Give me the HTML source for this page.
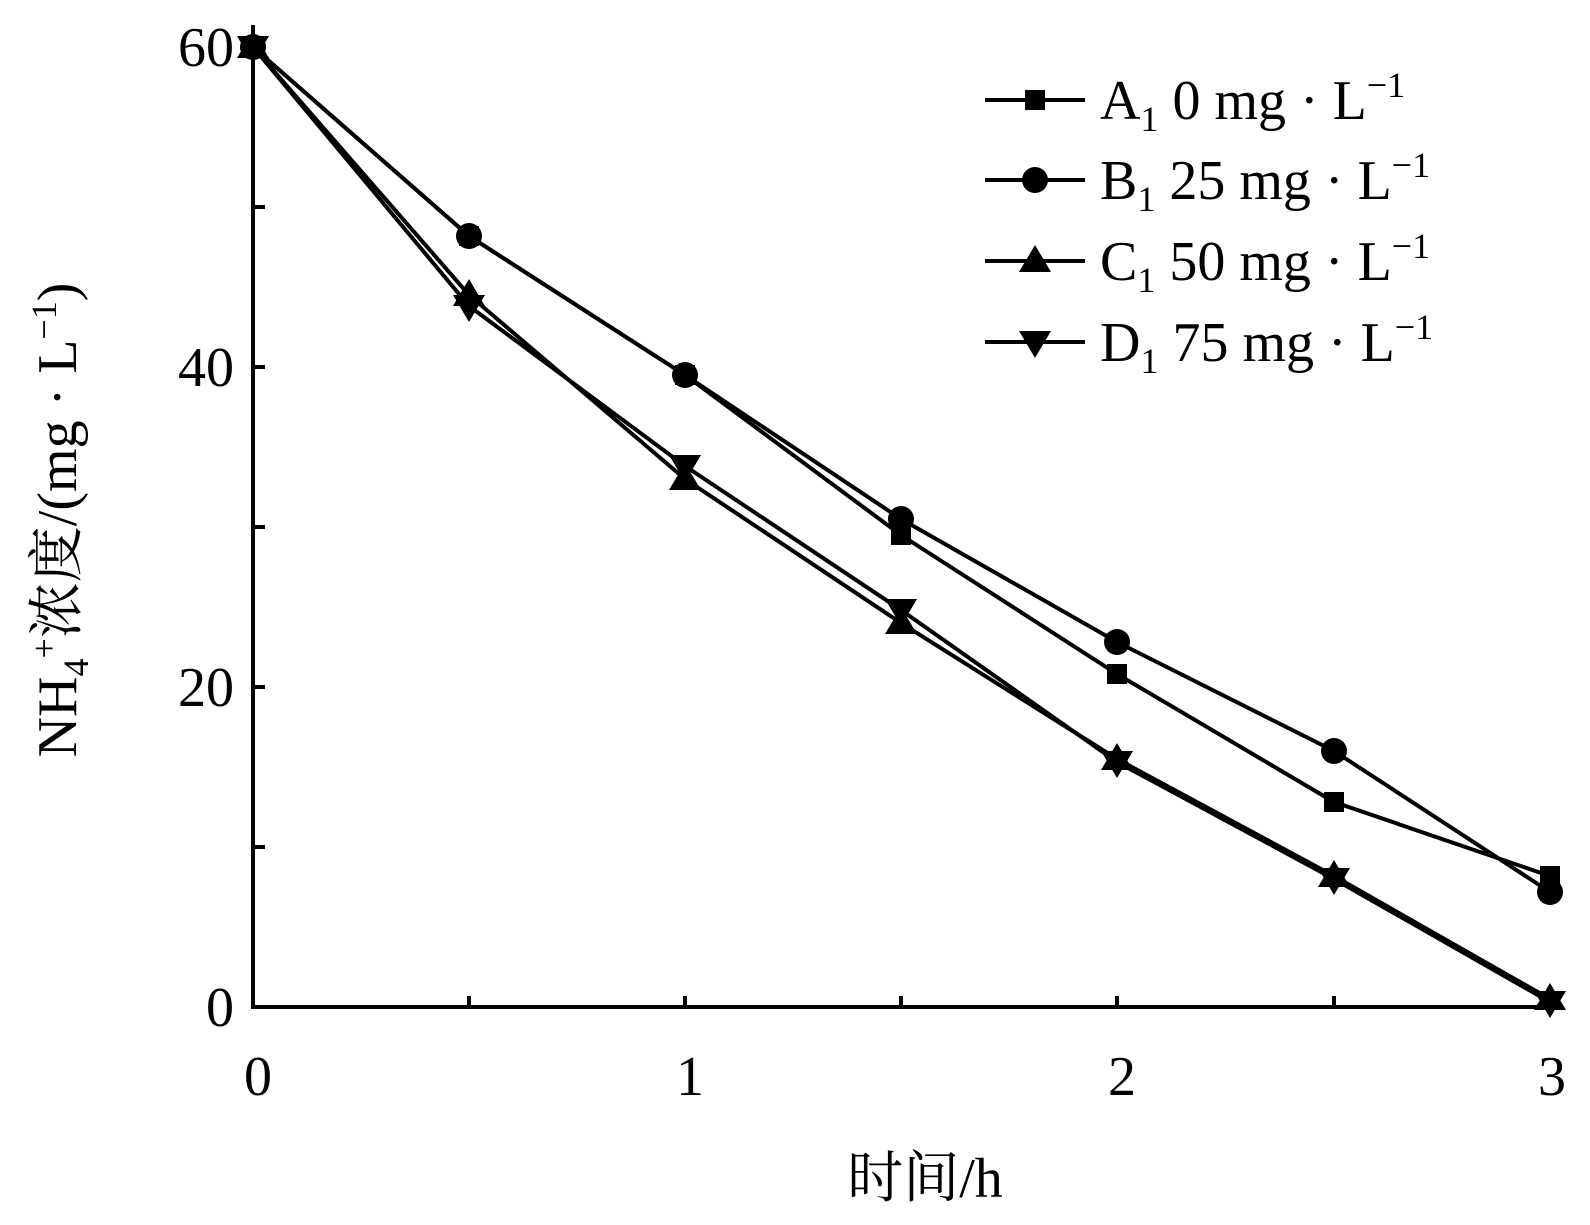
<!DOCTYPE html>
<html><head><style>body{margin:0;background:#fff}</style></head><body>
<svg width="1590" height="1220" xmlns="http://www.w3.org/2000/svg" font-family="Liberation Serif, Noto Serif CJK SC, serif">
<rect width="1590" height="1220" fill="#fff"/>
<g stroke="#000" stroke-width="4" fill="none">
<line x1="253" y1="25" x2="253" y2="1009"/>
<line x1="251" y1="1007" x2="1555" y2="1007"/>
<line x1="253" y1="47" x2="265" y2="47"/><line x1="253" y1="207" x2="265" y2="207"/><line x1="253" y1="367" x2="265" y2="367"/><line x1="253" y1="527" x2="265" y2="527"/><line x1="253" y1="687" x2="265" y2="687"/><line x1="253" y1="847" x2="265" y2="847"/>
<line x1="469" y1="1007" x2="469" y2="996"/><line x1="685" y1="1007" x2="685" y2="996"/><line x1="901" y1="1007" x2="901" y2="996"/><line x1="1117" y1="1007" x2="1117" y2="996"/><line x1="1334" y1="1007" x2="1334" y2="996"/>
</g>
<g font-size="56" text-anchor="end">
<text x="234" y="66">60</text><text x="234" y="386">40</text><text x="234" y="706">20</text><text x="234" y="1026">0</text>
</g>
<g font-size="56" text-anchor="middle">
<text x="258" y="1095">0</text><text x="690" y="1095">1</text><text x="1122" y="1095">2</text><text x="1552" y="1095">3</text>
<text x="925" y="1197">时间/h</text>
</g>
<text transform="translate(76,520) rotate(-90)" font-size="56" text-anchor="middle">NH<tspan font-size="36" dy="12">4</tspan><tspan font-size="36" dy="-32">+</tspan><tspan dy="20">浓度/(mg · L</tspan><tspan font-size="36" dy="-20">−1</tspan><tspan dy="20">)</tspan></text>
<g stroke="#000" stroke-width="4" fill="none">
<polyline points="253,47 469,236 685,375 901,535 1117,674 1334,802 1550,876"/>
<polyline points="253,47 469,236 685,375 901,519 1117,642 1334,751 1550,892"/>
<polyline points="253,47 469,295 685,479 901,623 1117,759 1334,876 1550,999"/>
<polyline points="253,47 469,306 685,466 901,610 1117,762 1334,879 1550,1002"/>
</g>
<g fill="#000">
<rect x="243" y="37" width="20" height="20"/><rect x="459" y="226" width="20" height="20"/><rect x="675" y="365" width="20" height="20"/><rect x="891" y="525" width="20" height="20"/><rect x="1107" y="664" width="20" height="20"/><rect x="1324" y="792" width="20" height="20"/><rect x="1540" y="866" width="20" height="20"/>
<circle cx="469" cy="236" r="13"/><circle cx="685" cy="375" r="13"/><circle cx="901" cy="519" r="13"/><circle cx="1117" cy="642" r="13"/><circle cx="1334" cy="751" r="13"/><circle cx="1550" cy="892" r="13"/><circle cx="253" cy="47" r="13"/>
<polygon points="253,31 269,58 237,58"/><polygon points="469,279 485,306 453,306"/><polygon points="685,463 701,490 669,490"/><polygon points="901,607 917,634 885,634"/><polygon points="1117,743 1133,770 1101,770"/><polygon points="1334,860 1350,887 1318,887"/><polygon points="1550,983 1566,1010 1534,1010"/>
<polygon points="253,63 269,36 237,36"/><polygon points="469,322 485,295 453,295"/><polygon points="685,482 701,455 669,455"/><polygon points="901,626 917,599 885,599"/><polygon points="1117,778 1133,751 1101,751"/><polygon points="1334,895 1350,868 1318,868"/><polygon points="1550,1018 1566,991 1534,991"/>
</g>
<g stroke="#000" stroke-width="4">
<line x1="985" y1="100" x2="1085" y2="100"/><line x1="985" y1="180" x2="1085" y2="180"/><line x1="985" y1="261" x2="1085" y2="261"/><line x1="985" y1="342" x2="1085" y2="342"/>
</g>
<g fill="#000">
<rect x="1025" y="90" width="20" height="20"/><circle cx="1035" cy="180" r="13"/><polygon points="1035,245 1051,272 1019,272"/><polygon points="1035,358 1051,331 1019,331"/>
</g>
<g font-size="56">
<text x="1100" y="119">A<tspan font-size="36" dy="12">1</tspan><tspan dy="-12"> 0 mg · L</tspan><tspan font-size="36" dy="-22">−1</tspan></text>
<text x="1100" y="199">B<tspan font-size="36" dy="12">1</tspan><tspan dy="-12"> 25 mg · L</tspan><tspan font-size="36" dy="-22">−1</tspan></text>
<text x="1100" y="280">C<tspan font-size="36" dy="12">1</tspan><tspan dy="-12"> 50 mg · L</tspan><tspan font-size="36" dy="-22">−1</tspan></text>
<text x="1100" y="361">D<tspan font-size="36" dy="12">1</tspan><tspan dy="-12"> 75 mg · L</tspan><tspan font-size="36" dy="-22">−1</tspan></text>
</g>
</svg>
</body></html>
